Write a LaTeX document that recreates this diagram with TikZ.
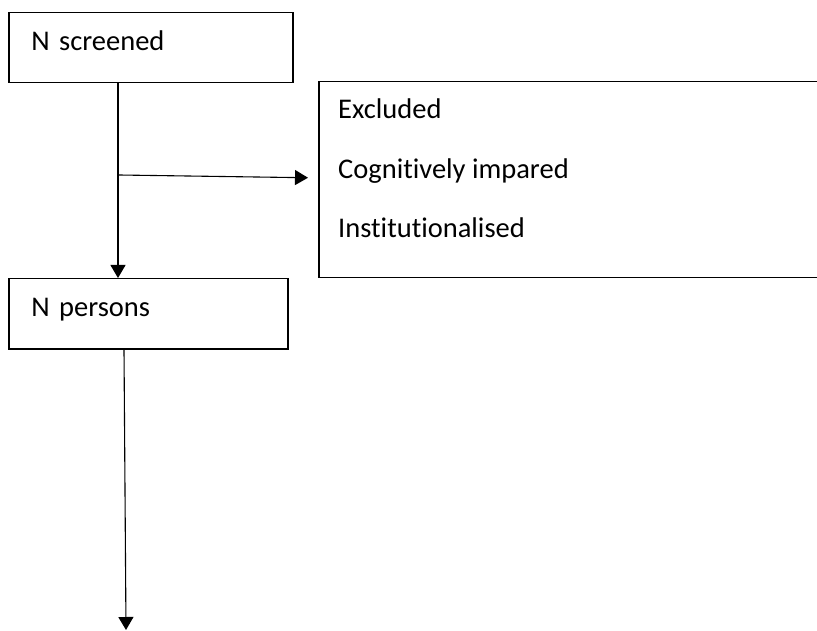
\documentclass[tikz,border=0pt]{standalone}
\usepackage{fontspec}
\setmainfont{Carlito}[Ligatures=NoCommon]
\usetikzlibrary{arrows.meta,calc}

\tikzset{
  flowbox/.style={draw,line width=1.5pt,anchor=north west,inner xsep=22.5pt,
    align=left,text height=20pt,text depth=14pt,minimum height=70pt},
  listbox/.style={draw,line width=1.5pt,anchor=north west,minimum width=520pt,minimum height=196pt},
  item/.style={anchor=base west,inner sep=0pt},
  flow/.style={line width=1.1pt,-{Triangle[width=15pt,length=13pt]}}
}

\begin{document}
\begin{tikzpicture}[x=1pt,y=-1pt,font=\fontsize{28.5pt}{34pt}\selectfont]
\useasboundingbox (0,0) rectangle (817,631);

% boxes
\node[flowbox,text width=239pt] (screened) at (8,12) {N screened};
\node[flowbox,text width=234pt] (persons) at (8,278) {N persons};
\node[listbox] (excluded) at (318,81) {};

% excluded list
\node[item] (exc) at ([shift={(20,38)}]excluded.north west) {Excluded};
\node[item] (cog) at ([yshift=-60pt]exc.base west) {Cognitively impared};
\node[item] (inst) at ([yshift=-59pt]cog.base west) {Institutionalised};

% connectors
\coordinate (branch) at (119,175);
\coordinate (next) at (126,630);
\draw[flow] ([xshift=110pt]screened.south west) -- ([xshift=110pt]persons.north west);
\draw[flow] (branch) -- ([xshift=-10pt,yshift=2pt]excluded.west);
\draw[flow] ([xshift=116pt]persons.south west) -- (next);
\end{tikzpicture}
\end{document}
